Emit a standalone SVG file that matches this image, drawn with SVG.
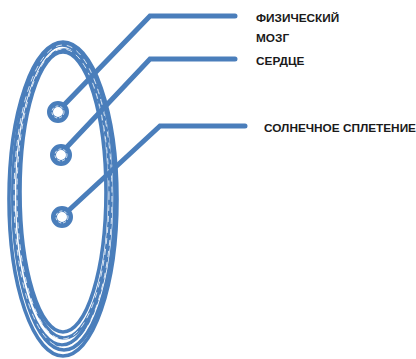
<svg xmlns="http://www.w3.org/2000/svg" width="416" height="359" viewBox="0 0 416 359">
<style>
.ring{fill:none;stroke:#4a7ebb;stroke-width:3.6}
.ringw{fill:none;stroke:#ffffff;stroke-width:0.8;stroke-dasharray:6 5}
.node{fill:none;stroke:#4a7ebb;stroke-width:6}
.hole{fill:none;stroke:#ffffff;stroke-width:0.8;stroke-dasharray:3 2}
.conn{fill:none;stroke:#4a7ebb;stroke-width:5;stroke-linecap:round;stroke-linejoin:miter}
.lbl{font-family:"Liberation Sans",Arial,sans-serif;font-weight:bold;font-size:11.8px;fill:#1a1a1a}
</style>
<rect width="416" height="359" fill="#ffffff"/>
<g id="body">
<ellipse class="ring" cx="63" cy="199" rx="54" ry="157"/>
<ellipse class="ring" cx="64" cy="197" rx="51" ry="153"/>
<ellipse class="ring" cx="62" cy="195" rx="49" ry="150"/>
<ellipse class="ring" cx="64" cy="194" rx="46" ry="144"/>
<ellipse class="ring" cx="63" cy="192" rx="43" ry="140"/>
<ellipse class="ringw" cx="63" cy="196" rx="49" ry="151"/>
<ellipse class="ringw" cx="63" cy="194" rx="46" ry="145"/>
</g>
<g id="connectors">
<polyline class="conn" points="64,105 150,16 235,16"/>
<polyline class="conn" points="66,148 150,59 235,59"/>
<polyline class="conn" points="68,211 160,126 245,126"/>
</g>
<g id="node-brain">
<circle class="node" cx="58" cy="112" r="8"/>
<circle class="hole" cx="58" cy="112" r="6"/>
<text class="lbl" x="256" y="22">ФИЗИЧЕСКИЙ</text>
<text class="lbl" x="256" y="42">МОЗГ</text>
</g>
<g id="node-heart">
<circle class="node" cx="61" cy="155" r="8"/>
<circle class="hole" cx="61" cy="155" r="6"/>
<text class="lbl" x="256" y="65">СЕРДЦЕ</text>
</g>
<g id="node-solar">
<circle class="node" cx="62" cy="217" r="8"/>
<circle class="hole" cx="62" cy="217" r="6"/>
<text class="lbl" x="264" y="132">СОЛНЕЧНОЕ СПЛЕТЕНИЕ</text>
</g>
</svg>
